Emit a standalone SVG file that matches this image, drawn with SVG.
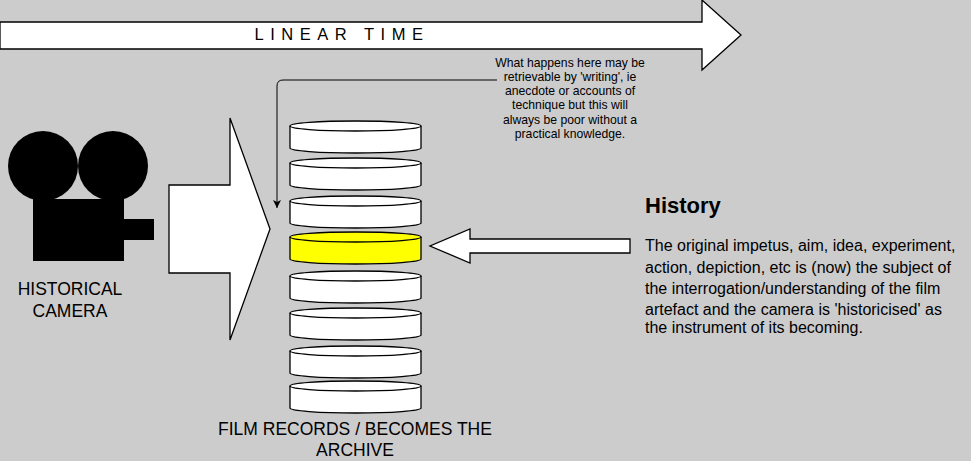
<svg xmlns="http://www.w3.org/2000/svg" width="971" height="461" viewBox="0 0 971 461">
<defs>
<style>
.s{stroke:#000;stroke-width:1.3}
.w{fill:#fff}
.t{font-family:"Liberation Sans",Arial,sans-serif;fill:#000}
</style>
<marker id="ah" markerWidth="10" markerHeight="10" refX="8" refY="5" orient="auto" markerUnits="userSpaceOnUse"><path d="M0,1 L8,5 L0,9 L2,5 Z" fill="#000"/></marker>
<g id="reel"><path class="s w" d="M0,6 V28 A65.5,5 0 0 0 131,28 V6"/><ellipse class="s w" cx="65.5" cy="6" rx="65.5" ry="5"/></g>
</defs>
<rect width="971" height="461" fill="#cccccc"/>
<g id="linear-time">
<path class="s w" d="M0,22 H702 V0 L741,35 L702,70 V49 H0 Z"/>
<text class="t" x="342" y="40" font-size="16.5" text-anchor="middle" letter-spacing="6.5">LINEAR  TIME</text>
</g>
<g id="camera">
<circle cx="43" cy="166" r="35"/><circle cx="113" cy="166" r="35"/>
<rect x="33" y="199" width="91" height="62"/><rect x="124" y="219" width="30" height="21"/>
<text class="t" x="70" y="295" font-size="17.5" text-anchor="middle">HISTORICAL</text>
<text class="t" x="70" y="317" font-size="17.5" text-anchor="middle">CAMERA</text>
</g>
<g id="big-arrow"><path class="s w" d="M169,185 H230 V118 L270,229 L230,340 V273 H169 Z"/></g>
<g id="archive">
<use href="#reel" x="290" y="120"/>
<use href="#reel" x="290" y="157"/>
<use href="#reel" x="290" y="195"/>
<g transform="translate(290,231)"><path class="s" fill="#ffff00" d="M0,6 V28 A65.5,5 0 0 0 131,28 V6"/><ellipse class="s" fill="#ffff00" cx="65.5" cy="6" rx="65.5" ry="5"/></g>
<use href="#reel" x="290" y="270"/>
<use href="#reel" x="290" y="307"/>
<use href="#reel" x="290" y="345"/>
<use href="#reel" x="290" y="380"/>
<text class="t" x="355" y="435" font-size="17.5" text-anchor="middle">FILM RECORDS / BECOMES THE</text>
<text class="t" x="355" y="456" font-size="17.5" text-anchor="middle">ARCHIVE</text>
</g>
<g id="history-arrow"><path class="s w" d="M630,239 V253 H470 V263 L430,246 L470,229 V239 Z"/></g>
<g id="history">
<text class="t" x="645" y="213" font-size="22" font-weight="bold">History</text>
<text class="t" font-size="16"><tspan x="645" y="251">The original impetus, aim, idea, experiment,</tspan><tspan x="645" y="273">action, depiction, etc is (now) the subject of</tspan><tspan x="645" y="294">the interrogation/understanding of the film</tspan><tspan x="645" y="315">artefact and the camera is 'historicised' as</tspan><tspan x="645" y="333">the instrument of its becoming.</tspan></text>
</g>
<g id="note">
<text class="t" font-size="12.2" text-anchor="middle"><tspan x="570" y="67">What happens here may be</tspan><tspan x="570" y="81">retrievable by 'writing', ie</tspan><tspan x="570" y="95">anecdote or accounts of</tspan><tspan x="570" y="109">technique but this will</tspan><tspan x="570" y="124">always be poor without a</tspan><tspan x="570" y="138">practical knowledge.</tspan></text>
</g>
<g id="connectors"><path d="M497,80 H283 Q277,80 277,86 V208" fill="none" stroke="#000" stroke-width="1" marker-end="url(#ah)"/></g>
</svg>
